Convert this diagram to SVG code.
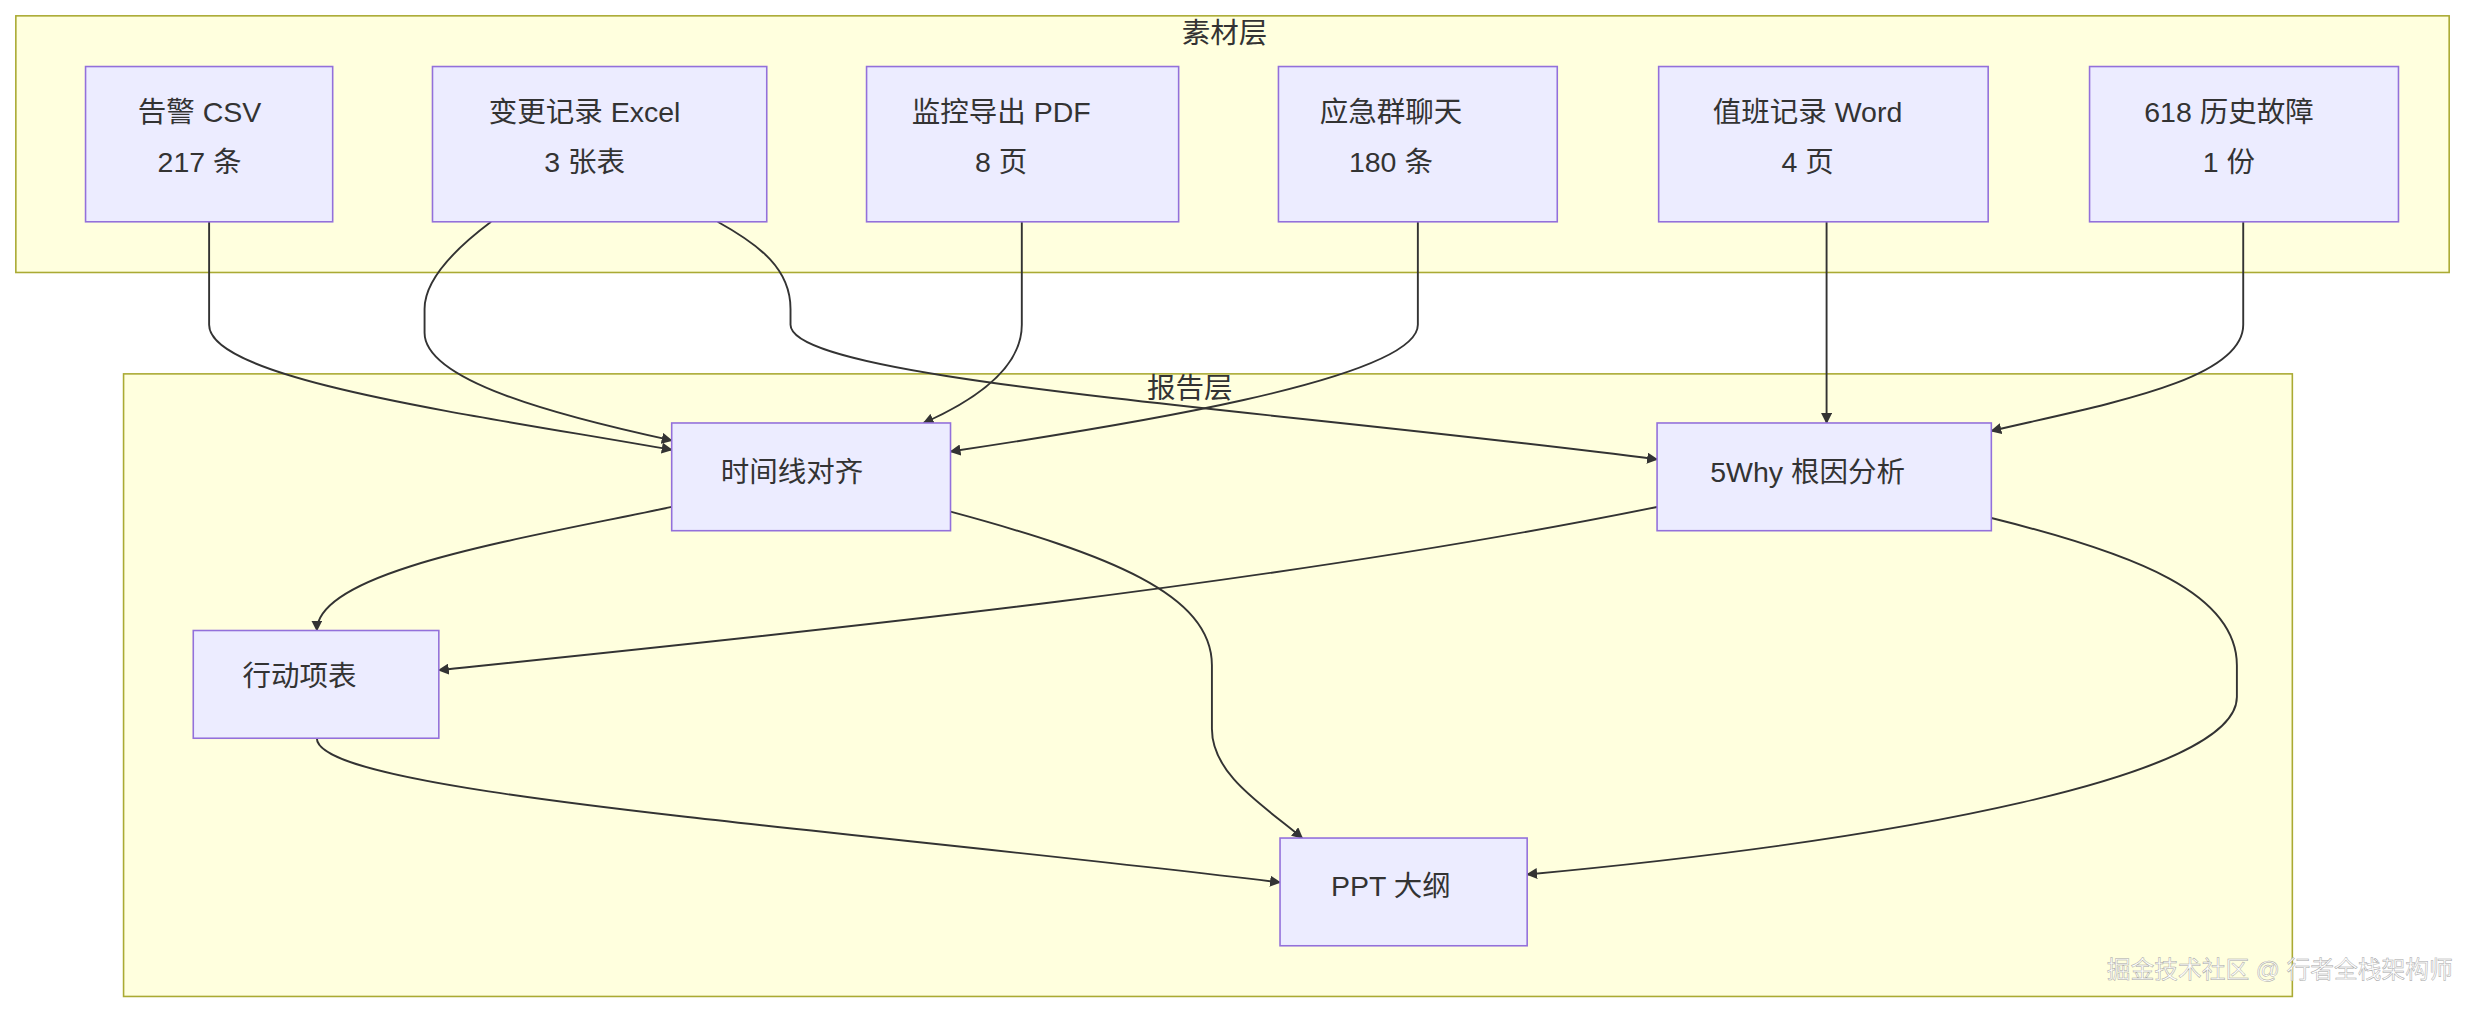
<svg xmlns="http://www.w3.org/2000/svg" width="2484" height="1014" viewBox="0 0 2484 1014">
<style>
.cl{fill:#ffffde;stroke:#aaaa33;stroke-width:1}
.nd{fill:#ececff;stroke:#9370db;stroke-width:1}
text{font-family:"Liberation Sans","Noto Sans CJK SC",sans-serif;font-size:18px;fill:#333;text-anchor:middle;dominant-baseline:central}
.e{fill:none;stroke:#333;stroke-width:1.2}
</style>
<defs>
<marker id="a" viewBox="0 0 10 10" refX="9" refY="5" markerWidth="7" markerHeight="7" orient="auto" markerUnits="userSpaceOnUse"><path d="M0,0L10,5L0,10z" fill="#333"/></marker>
</defs>
<rect width="2484" height="1014" fill="#fff"/>
<g transform="scale(1.5842)">
<g id="layer1"><rect class="cl" x="10" y="10" width="1536" height="162"/><text x="773" y="21">素材层</text></g>
<g id="layer2"><rect class="cl" x="78" y="236" width="1369" height="393"/><text x="751" y="245">报告层</text></g>
<g id="connectors">
<path class="e" marker-end="url(#a)" d="M132,140L132,205C132,240 300,262 424,284"/>
<path class="e" marker-end="url(#a)" d="M310,140C290,155 268,175 268,195L268,210C268,240 350,262 424,278"/>
<path class="e" marker-end="url(#a)" d="M453,140C480,155 499,170 499,195L499,205C499,240 800,258 1046,290"/>
<path class="e" marker-end="url(#a)" d="M645,140L645,205C645,235 610,255 583,267"/>
<path class="e" marker-end="url(#a)" d="M895,140L895,205C895,240 700,270 600,285"/>
<path class="e" marker-end="url(#a)" d="M1153,140L1153,267"/>
<path class="e" marker-end="url(#a)" d="M1416,140L1416,205C1416,240 1330,255 1257,272"/>
<path class="e" marker-end="url(#a)" d="M424,320C330,340 200,360 200,398"/>
<path class="e" marker-end="url(#a)" d="M600,323C700,350 765,375 765,420L765,460C765,490 800,510 822,529"/>
<path class="e" marker-end="url(#a)" d="M1046,320C800,370 500,400 277,423"/>
<path class="e" marker-end="url(#a)" d="M1257,327C1350,350 1412,375 1412,420L1412,440C1412,490 1200,530 964,552"/>
<path class="e" marker-end="url(#a)" d="M200,466C200,500 500,520 808,557"/>
</g>
<g id="n1"><rect class="nd" x="54" y="42" width="156" height="98"/><text x="126" y="71">告警 CSV</text><text x="126" y="102">217 条</text></g>
<g id="n2"><rect class="nd" x="273" y="42" width="211" height="98"/><text x="369" y="71">变更记录 Excel</text><text x="369" y="102">3 张表</text></g>
<g id="n3"><rect class="nd" x="547" y="42" width="197" height="98"/><text x="632" y="71">监控导出 PDF</text><text x="632" y="102">8 页</text></g>
<g id="n4"><rect class="nd" x="807" y="42" width="176" height="98"/><text x="878" y="71">应急群聊天</text><text x="878" y="102">180 条</text></g>
<g id="n5"><rect class="nd" x="1047" y="42" width="208" height="98"/><text x="1141" y="71">值班记录 Word</text><text x="1141" y="102">4 页</text></g>
<g id="n6"><rect class="nd" x="1319" y="42" width="195" height="98"/><text x="1407" y="71">618 历史故障</text><text x="1407" y="102">1 份</text></g>
<g id="n7"><rect class="nd" x="424" y="267" width="176" height="68"/><text x="500" y="298">时间线对齐</text></g>
<g id="n8"><rect class="nd" x="1046" y="267" width="211" height="68"/><text x="1141" y="298">5Why 根因分析</text></g>
<g id="n9"><rect class="nd" x="122" y="398" width="155" height="68"/><text x="189" y="427">行动项表</text></g>
<g id="n10"><rect class="nd" x="808" y="529" width="156" height="68"/><text x="878" y="559">PPT 大纲</text></g>
<text x="1439" y="612" style="font-size:15px;fill:#fff;stroke:#999;stroke-width:0.3;opacity:0.9">掘金技术社区 @ 行者全栈架构师</text>
</g>
</svg>
